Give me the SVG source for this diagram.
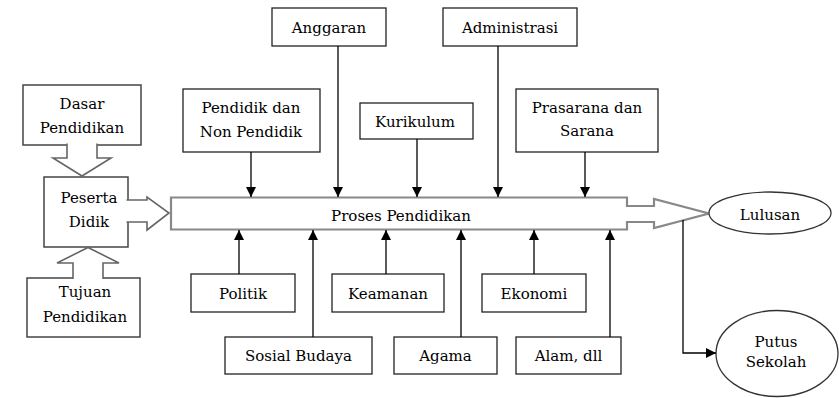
<svg xmlns="http://www.w3.org/2000/svg" width="839" height="398" viewBox="0 0 839 398">
<style>
.box{fill:#fff;stroke:#222;stroke-width:1.3}
.gbox{fill:#fff;stroke:#444;stroke-width:1.5}
.blk{fill:#fff;stroke:#666;stroke-width:1.6}
.bar{fill:#fff;stroke:#888;stroke-width:2.2}
.ell{fill:#fff;stroke:#333;stroke-width:1.3}
.ln{fill:none;stroke:#000;stroke-width:1.3}
text{font-family:'DejaVu Serif','Liberation Serif',serif;font-size:15px;fill:#000;text-anchor:middle}
</style>
<defs>
<marker id="ah" markerUnits="userSpaceOnUse" markerWidth="10" markerHeight="10" refX="10" refY="5" orient="auto">
<path d="M0,0 L10,5 L0,10 z" fill="#000"/>
</marker>
</defs>
<rect width="839" height="398" fill="#fff"/>

<g id="dasar">
<rect class="gbox" x="23" y="85" width="118" height="60"/>
<text x="82" y="109">Dasar</text>
<text x="82" y="133">Pendidikan</text>
</g>
<g id="peserta">
<rect class="gbox" x="44" y="177" width="84" height="70"/>
<text x="89" y="203">Peserta</text>
<text x="89" y="227">Didik</text>
</g>
<g id="tujuan">
<rect class="gbox" x="27" y="278" width="113" height="59"/>
<text x="85" y="297">Tujuan</text>
<text x="85" y="322">Pendidikan</text>
</g>

<g id="proses">
<path class="bar" d="M171,197.5 H627 V206 H654 V199 L709,213.5 L654,228 V222 H627 V229.5 H171 Z"/>
<text x="401" y="221">Proses Pendidikan</text>
</g>

<g id="block-arrows">
<path class="blk" d="M67,143.5 V158 H53 L82,176 L111,158 H97 V143.5"/>
<path class="blk" d="M126.5,200 H147 V197 L169,213 L147,230 V222 H126.5"/>
<path class="blk" d="M73,279 V263 H57 L88,247.5 L119,263 H103 V279"/>
</g>

<g id="anggaran">
<rect class="box" x="272" y="8" width="114" height="38"/>
<text x="329" y="33">Anggaran</text>
</g>
<g id="administrasi">
<rect class="box" x="443" y="8" width="134" height="38"/>
<text x="510" y="33">Administrasi</text>
</g>
<g id="pendidik">
<rect class="box" x="183" y="89" width="137" height="63"/>
<text x="251" y="113">Pendidik dan</text>
<text x="251" y="137">Non Pendidik</text>
</g>
<g id="kurikulum">
<rect class="box" x="360" y="103" width="113" height="36"/>
<text x="415" y="127">Kurikulum</text>
</g>
<g id="prasarana">
<rect class="box" x="516" y="89" width="142" height="63"/>
<text x="587" y="113">Prasarana dan</text>
<text x="587" y="136">Sarana</text>
</g>

<g id="politik">
<rect class="box" x="191" y="274" width="104" height="38"/>
<text x="243" y="299">Politik</text>
</g>
<g id="keamanan">
<rect class="box" x="332" y="274" width="112" height="38"/>
<text x="388" y="299">Keamanan</text>
</g>
<g id="ekonomi">
<rect class="box" x="482" y="274" width="104" height="38"/>
<text x="534" y="299">Ekonomi</text>
</g>
<g id="sosial">
<rect class="box" x="225" y="337" width="147" height="37"/>
<text x="298.5" y="361">Sosial Budaya</text>
</g>
<g id="agama">
<rect class="box" x="394" y="337" width="103" height="37"/>
<text x="445.5" y="361">Agama</text>
</g>
<g id="alam">
<rect class="box" x="516" y="337" width="105" height="37"/>
<text x="568.5" y="361">Alam, dll</text>
</g>

<g id="lulusan">
<ellipse class="ell" cx="770" cy="213" rx="61" ry="21"/>
<text x="770" y="220">Lulusan</text>
</g>
<g id="putus">
<ellipse class="ell" cx="777" cy="353.5" rx="61" ry="43"/>
<text x="776" y="347">Putus</text>
<text x="776" y="367">Sekolah</text>
</g>

<g id="connectors">
<line class="ln" x1="251" y1="152" x2="251" y2="197" marker-end="url(#ah)"/>
<line class="ln" x1="338" y1="46" x2="338" y2="197" marker-end="url(#ah)"/>
<line class="ln" x1="417" y1="139" x2="417" y2="197" marker-end="url(#ah)"/>
<line class="ln" x1="498" y1="46" x2="498" y2="197" marker-end="url(#ah)"/>
<line class="ln" x1="585" y1="152" x2="585" y2="197" marker-end="url(#ah)"/>
<line class="ln" x1="239" y1="274" x2="239" y2="230" marker-end="url(#ah)"/>
<line class="ln" x1="313" y1="337" x2="313" y2="230" marker-end="url(#ah)"/>
<line class="ln" x1="386" y1="274" x2="386" y2="230" marker-end="url(#ah)"/>
<line class="ln" x1="461" y1="337" x2="461" y2="230" marker-end="url(#ah)"/>
<line class="ln" x1="534" y1="274" x2="534" y2="230" marker-end="url(#ah)"/>
<line class="ln" x1="610" y1="337" x2="610" y2="230" marker-end="url(#ah)"/>
<polyline class="ln" points="683,220 683,353 716,353" marker-end="url(#ah)"/>
</g>
</svg>
